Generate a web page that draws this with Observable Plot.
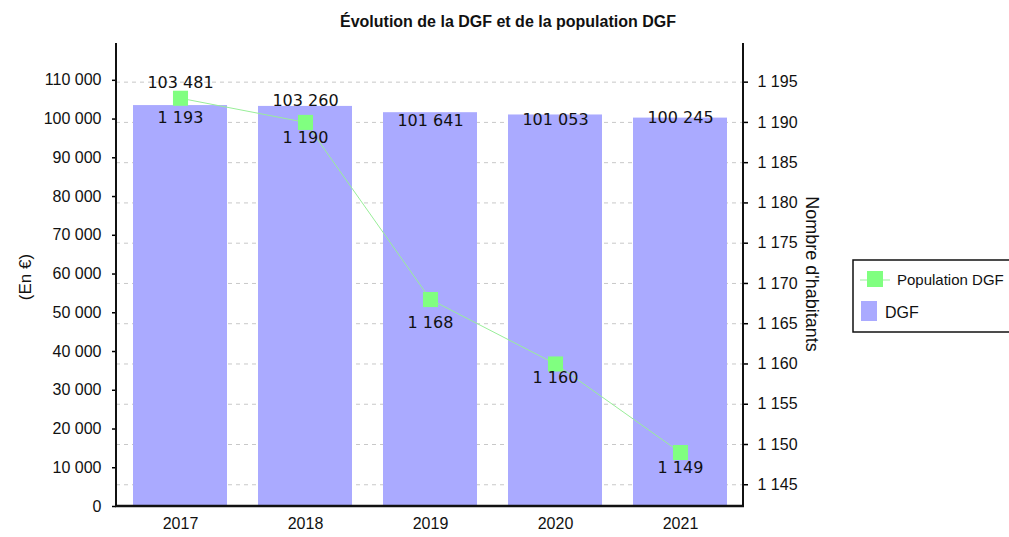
<!DOCTYPE html>
<html>
<head>
<meta charset="utf-8">
<script src="https://cdn.jsdelivr.net/npm/d3@7"></script>
<script src="https://cdn.jsdelivr.net/npm/@observablehq/plot@0.6"></script>
<style>
  body { margin: 0; background: #fff; }
  svg { overflow: hidden; }
</style>
</head>
<body>
<div id="chart"></div>
<script>
// ---- data ----
const years = ["2017", "2018", "2019", "2020", "2021"];
const dgf = [103481, 103260, 101641, 101053, 100245];
const population = [1193, 1190, 1168, 1160, 1149];
const dgfTicks = [0, 10000, 20000, 30000, 40000, 50000, 60000, 70000, 80000, 90000, 100000, 110000];
const popTicks = [1145, 1150, 1155, 1160, 1165, 1170, 1175, 1180, 1185, 1190, 1195];
const title = "Évolution de la DGF et de la population DGF";
const leftLabel = "(En €)";
const rightLabel = "Nombre d'habitants";
const seriesNames = ["Population DGF", "DGF"];

// ---- layout / styles ----
const W = 1009, H = 537;
const yDomain = [0, 119500];
const popDomain = [1142.3, 1199.8];
const barColor = "#aaaaff";
const dotColor = "#80ff80";
const lineColor = "#99ee99";
const font = "Liberation Sans, Arial, sans-serif";
const dgfLabelDy = [-23, -6, 8, 5, 0];
const popLabelDy = [20, 15, 23, 14, 15];

const fr = d3.formatLocale({decimal: ",", thousands: " ", grouping: [3], currency: ["", " €"]});
const fmt = fr.format(",d");
const toY = p => (p - popDomain[0]) / (popDomain[1] - popDomain[0]) * (yDomain[1] - yDomain[0]) + yDomain[0];
const fromY = v => (v - yDomain[0]) / (yDomain[1] - yDomain[0]) * (popDomain[1] - popDomain[0]) + popDomain[0];

const data = years.map((y, i) => ({year: y, dgf: dgf[i], pop: population[i], popY: toY(population[i])}));

const dgfLabels = data.map((d, i) => Plot.text([d], {
  x: "year", y: "dgf", text: d => fmt(d.dgf), dy: dgfLabelDy[i],
  fontFamily: "DejaVu Sans", fontSize: 16, fill: "#111", lineAnchor: "middle"
}));
const popLabels = data.map((d, i) => Plot.text([d], {
  x: "year", y: "popY", text: d => fmt(d.pop), dy: popLabelDy[i],
  fontFamily: "DejaVu Sans", fontSize: 16, fill: "#111", lineAnchor: "middle"
}));

const plot = Plot.plot({
  width: W, height: H,
  marginLeft: 116, marginRight: 266, marginTop: 43, marginBottom: 31,
  style: {fontFamily: font, fontSize: "16px", color: "#111", background: "#fff"},
  x: {type: "band", domain: years, paddingInner: 0.25, paddingOuter: 0.125, axis: null},
  y: {domain: yDomain, axis: null},
  marks: [
    Plot.gridY(popTicks.map(toY), {stroke: "#c8c8c8", strokeOpacity: 1, strokeDasharray: "4,4"}),
    Plot.barY(data, {x: "year", y: "dgf", fill: barColor}),
    Plot.axisY(dgfTicks, {anchor: "left", label: null, tickFormat: fmt, tickSize: 4, tickPadding: 11, stroke: "#000", strokeWidth: 1.5, fontSize: 16}),
    Plot.axisY(popTicks.map(toY), {anchor: "right", label: null, tickFormat: v => fmt(Math.round(fromY(v))), tickSize: 4, tickPadding: 10, stroke: "#000", strokeWidth: 1.5, fontSize: 16}),
    Plot.axisX({label: null, tickSize: 0, tickPadding: 11, fontSize: 16}),
    Plot.line(data, {x: "year", y: "popY", stroke: lineColor, strokeWidth: 1}),
    Plot.dot(data, {x: "year", y: "popY", symbol: "square", r: 8.5, fill: dotColor, stroke: "none"}),
    ...dgfLabels,
    ...popLabels
  ]
});

document.getElementById("chart").appendChild(plot);

// ---- axis lines, title, axis labels, legend ----
const svg = d3.select(plot);
const xr = plot.scale("x").range;
const yr = plot.scale("y").range; // [bottom, top]
const x0 = xr[0], x1 = xr[1], yB = yr[0], yT = yr[1];

svg.append("line").attr("x1", x0).attr("x2", x0).attr("y1", yT).attr("y2", yB + 1).attr("stroke", "#111").attr("stroke-width", 2);
svg.append("line").attr("x1", x1).attr("x2", x1).attr("y1", yT).attr("y2", yB + 1).attr("stroke", "#111").attr("stroke-width", 2);
svg.append("line").attr("x1", x0 - 1).attr("x2", x1 + 1).attr("y1", yB).attr("y2", yB).attr("stroke", "#111").attr("stroke-width", 2.5);

svg.append("text").attr("x", 508).attr("y", 27).attr("text-anchor", "middle")
  .attr("font-family", font).attr("font-weight", "bold").attr("font-size", 16)
  .attr("fill", "#111").text(title);

svg.append("text").attr("transform", "translate(31,277) rotate(-90)").attr("text-anchor", "middle")
  .attr("font-family", font).attr("font-size", 17).attr("fill", "#111").text(leftLabel);

svg.append("text").attr("transform", "translate(806,274) rotate(90)").attr("text-anchor", "middle")
  .attr("font-family", font).attr("font-size", 18).attr("fill", "#111").text(rightLabel);

const lg = svg.append("g").attr("text-anchor", "start");
lg.append("rect").attr("x", 853).attr("y", 260).attr("width", 170).attr("height", 72)
  .attr("fill", "#fff").attr("stroke", "#111").attr("stroke-width", 1.5);
lg.append("line").attr("x1", 860).attr("x2", 890).attr("y1", 280).attr("y2", 280).attr("stroke", lineColor).attr("stroke-width", 1);
lg.append("rect").attr("x", 867).attr("y", 271).attr("width", 16).attr("height", 16).attr("fill", dotColor);
lg.append("text").attr("x", 897).attr("y", 280).attr("dy", "0.35em").attr("text-anchor", "start")
  .attr("font-family", font).attr("font-size", 15).attr("fill", "#111").text(seriesNames[0]);
lg.append("rect").attr("x", 861).attr("y", 301).attr("width", 16).attr("height", 20).attr("fill", barColor);
lg.append("text").attr("x", 885).attr("y", 312).attr("dy", "0.35em").attr("text-anchor", "start")
  .attr("font-family", font).attr("font-size", 16).attr("fill", "#111").text(seriesNames[1]);
</script>
</body>
</html>
